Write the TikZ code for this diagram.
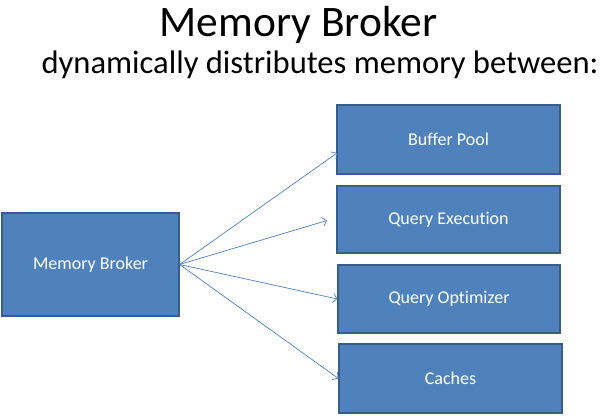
\documentclass[tikz,border=0pt]{standalone}
\usepackage{fontspec}
\setmainfont[Ligatures={NoCommon}]{Carlito}
\usetikzlibrary{arrows.meta}
\definecolor{boxfill}{HTML}{4F81BD}
\definecolor{boxline}{HTML}{385D8A}
\begin{document}
\begin{tikzpicture}[x=1pt,y=-1pt,
  part/.style={rectangle, fill=boxfill, draw=boxline, line width=1.2pt, text=white, inner sep=0pt, font=\fontsize{18}{20}\selectfont},
  link/.style={draw=boxfill, line width=0.7pt, -{Straight Barb[length=4pt,width=9pt]}}]
\useasboundingbox (0,0) rectangle (608,417);
\node[anchor=base, font=\fontsize{43.5}{50}\selectfont] (title) at (298.5,37){Memory Broker};
\node[anchor=base, font=\fontsize{32.6}{36}\selectfont] (sub) at (320,74){dynamically distributes memory between:};
\node[part, minimum width=177pt, minimum height=103pt] (mb) at (90.5,264.5){Memory Broker};
\node[part, minimum width=223pt, minimum height=69pt] (bp) at (448.5,139.5){Buffer Pool};
\node[part, minimum width=223pt, minimum height=67pt] (qe) at (448.5,219.5){Query Execution};
\node[part, minimum width=222pt, minimum height=68pt] (qo) at (449,299){Query Optimizer};
\node[part, minimum width=223pt, minimum height=69pt] (ca) at (450.5,378.5){Caches};
\coordinate (bpin) at (337,153);
\coordinate (qein) at (327,220.5);
\draw[link] (mb.east) -- (bpin);
\draw[link] (mb.east) -- (qein);
\draw[link] (mb.east) -- (qo.west);
\draw[link] (mb.east) -- (ca.west);

\end{tikzpicture}
\end{document}
